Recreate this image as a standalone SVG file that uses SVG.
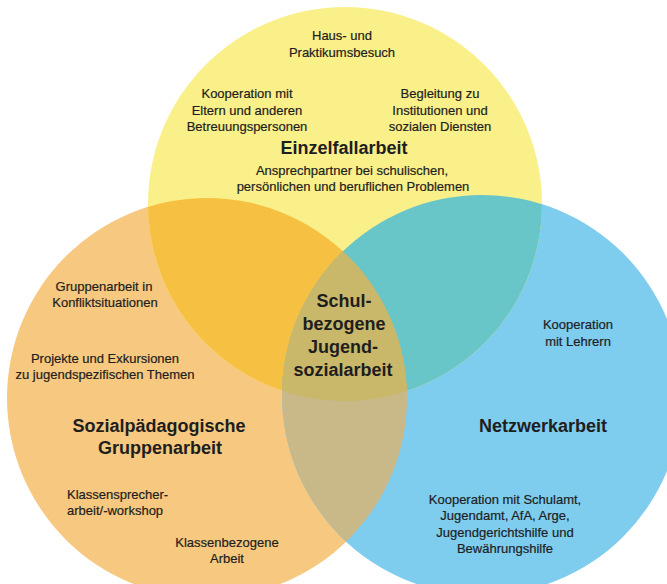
<svg xmlns="http://www.w3.org/2000/svg" width="667" height="584" viewBox="0 0 667 584">
  <style>
    text { font-family: "Liberation Sans", Arial, sans-serif; fill: #1e1e1e; text-anchor: middle; }
    .s { font-size: 13px; stroke: #1e1e1e; stroke-width: 0.2px; }
    .b { font-size: 18px; font-weight: bold; }
    .l { text-anchor: start; }
  </style>
  <defs>
    <clipPath id="cY"><circle cx="345" cy="204" r="197"/></clipPath>
    <clipPath id="cO"><circle cx="207" cy="398" r="200"/></clipPath>
    <clipPath id="cB"><circle cx="482" cy="395" r="200"/></clipPath>
  </defs>
  <rect width="667" height="584" fill="#ffffff"/>
  <g id="areas">
    <circle cx="207" cy="398" r="200" fill="#F6C880"/>
    <circle cx="482" cy="395" r="200" fill="#7ECCEE"/>
    <circle cx="345" cy="204" r="197" fill="#FAF08A"/>
    <circle cx="207" cy="398" r="200" fill="#F6C142" clip-path="url(#cY)"/>
    <circle cx="482" cy="395" r="200" fill="#69C6C8" clip-path="url(#cY)"/>
    <circle cx="482" cy="395" r="200" fill="#C9B989" clip-path="url(#cO)"/>
    <g clip-path="url(#cY)">
      <circle cx="482" cy="395" r="200" fill="#C9B76A" clip-path="url(#cO)"/>
    </g>
  </g>
  <g id="einzelfallarbeit">
    <text class="s" x="342" y="40">Haus- und</text>
    <text class="s" x="342" y="57">Praktikumsbesuch</text>
    <text class="s" x="247" y="98">Kooperation mit</text>
    <text class="s" x="247" y="115">Eltern und anderen</text>
    <text class="s" x="247" y="131">Betreuungspersonen</text>
    <text class="s" x="440" y="98">Begleitung zu</text>
    <text class="s" x="440" y="115">Institutionen und</text>
    <text class="s" x="440" y="131">sozialen Diensten</text>
    <text class="b" x="344" y="154">Einzelfallarbeit</text>
    <text class="s" x="352" y="175">Ansprechpartner bei schulischen,</text>
    <text class="s" x="353" y="191">persönlichen und beruflichen Problemen</text>
  </g>
  <g id="gruppenarbeit">
    <text class="s" x="104" y="291">Gruppenarbeit in</text>
    <text class="s" x="105" y="307">Konfliktsituationen</text>
    <text class="s" x="105" y="363">Projekte und Exkursionen</text>
    <text class="s" x="105" y="379">zu jugendspezifischen Themen</text>
    <text class="b" x="159" y="432">Sozialpädagogische</text>
    <text class="b" x="160" y="454">Gruppenarbeit</text>
    <text class="s l" x="67" y="499">Klassensprecher-</text>
    <text class="s l" x="67" y="515">arbeit/-workshop</text>
    <text class="s" x="227" y="547">Klassenbezogene</text>
    <text class="s" x="227" y="563">Arbeit</text>
  </g>
  <g id="netzwerkarbeit">
    <text class="s" x="578" y="329">Kooperation</text>
    <text class="s" x="578" y="346">mit Lehrern</text>
    <text class="b" x="543" y="432">Netzwerkarbeit</text>
    <text class="s" x="505" y="504">Kooperation mit Schulamt,</text>
    <text class="s" x="505" y="520">Jugendamt, AfA, Arge,</text>
    <text class="s" x="505" y="537">Jugendgerichtshilfe und</text>
    <text class="s" x="505" y="553">Bewährungshilfe</text>
  </g>
  <g id="jugendsozialarbeit">
    <text class="b" x="344" y="307">Schul-</text>
    <text class="b" x="344" y="330">bezogene</text>
    <text class="b" x="343" y="353">Jugend-</text>
    <text class="b" x="343" y="376">sozialarbeit</text>
  </g>
</svg>
